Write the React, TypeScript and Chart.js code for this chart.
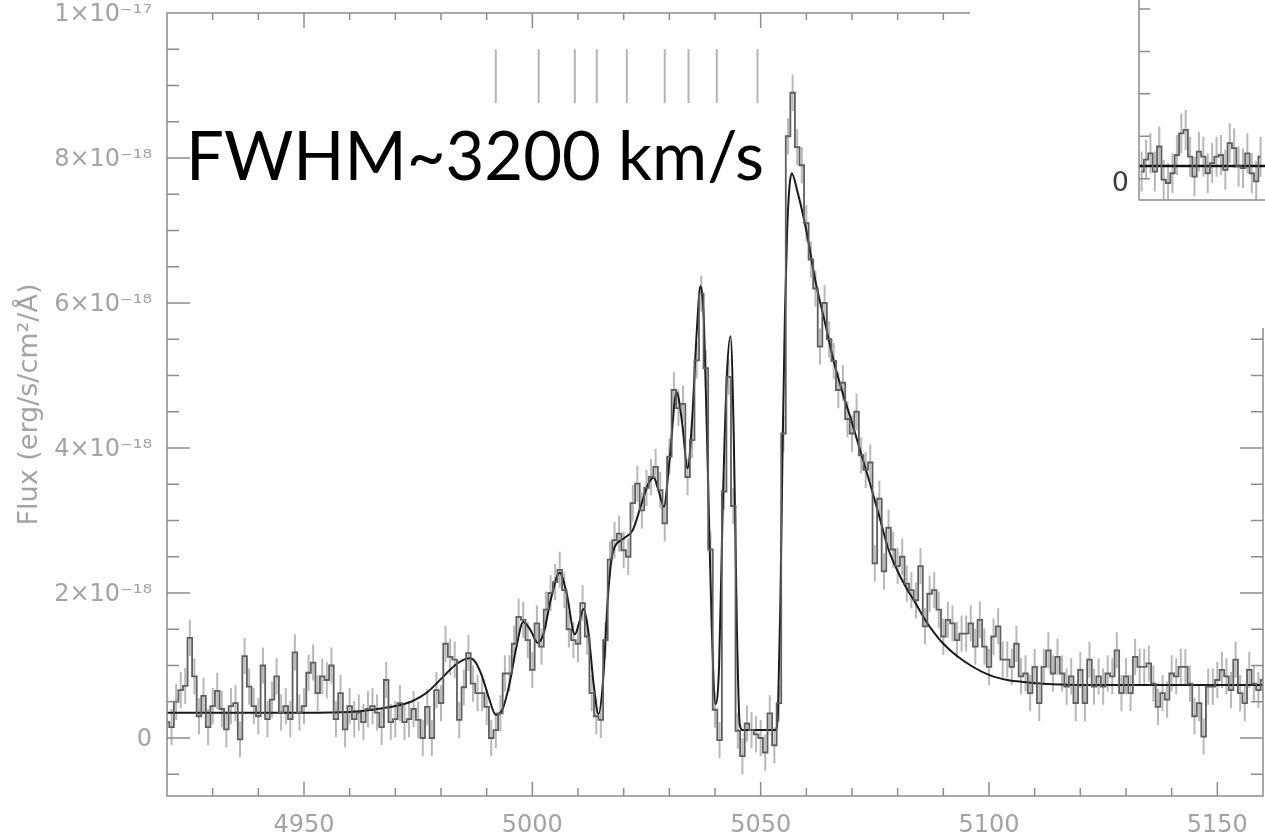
import { useEffect, useRef } from "react";
import { Chart, registerables } from "chart.js";

Chart.register(...registerables);

const W = 1265;
const H = 837;

// Observed spectrum: one value per 1 Å pixel starting at 4920 Å.
// Flux in units of 1e-18 erg/s/cm²/Å.
const WAVE_START = 4920;
const WAVE_STEP = 1;
const FLUX = [
  0.22, 0.15, 0.50, 0.66, 0.72, 1.38, 0.85, 0.30, 0.58, 0.15, // 4920
  0.44, 0.65, 0.40, 0.12, 0.44, 0.48, -0.02, 1.13, 0.71, 0.44, // 4930
  0.30, 1.00, 0.26, 0.53, 0.85, 0.35, 0.44, 0.26, 1.18, 0.35, // 4940
  0.44, 0.90, 1.04, 0.62, 0.85, 0.80, 1.00, 0.26, 0.62, 0.12, // 4950
  0.44, 0.26, 0.35, 0.22, 0.40, 0.44, 0.35, 0.15, 0.80, 0.22, // 4960
  0.26, 0.48, 0.22, 0.26, 0.40, 0.25, 0.00, 0.43, 0.00, 0.66, // 4970
  0.48, 1.30, 1.12, 1.08, 0.25, 0.70, 1.17, 0.75, 0.62, 0.62, // 4980
  0.43, 0.00, 0.11, 0.34, 0.89, 0.89, 1.30, 1.67, 1.63, 1.35, // 4990
  0.94, 1.58, 1.26, 1.77, 2.00, 2.15, 2.32, 2.04, 1.50, 1.35, // 5000
  1.30, 1.86, 1.40, 0.62, 0.30, 0.25, 1.35, 2.46, 2.73, 2.82, // 5010
  2.59, 2.50, 3.24, 3.51, 3.14, 3.45, 3.60, 3.74, 3.42, 2.96, // 5020
  3.88, 4.80, 4.55, 4.61, 3.60, 4.11, 5.21, 6.13, 5.10, 2.60, // 5030
  0.39, -0.03, 3.40, 4.98, 3.20, 0.10, -0.25, 0.20, 0.11, 0.05, // 5040
  0.00, -0.20, 0.34, -0.10, 0.48, 4.20, 8.30, 8.90, 8.15, 7.90, // 5050
  7.10, 6.60, 6.20, 5.40, 6.00, 5.50, 5.20, 4.80, 4.90, 4.40, // 5060
  4.20, 4.50, 3.90, 3.70, 3.80, 2.41, 3.30, 2.30, 2.90, 2.60, // 5070
  2.37, 2.50, 2.13, 2.04, 1.90, 2.37, 1.54, 1.99, 2.04, 1.77, // 5080
  1.40, 1.63, 1.58, 1.35, 1.44, 1.44, 1.58, 1.26, 1.63, 1.26, // 5090
  0.98, 1.40, 1.54, 1.08, 1.08, 0.98, 1.30, 0.85, 0.89, 0.62, // 5100
  0.98, 0.48, 0.98, 1.21, 0.89, 1.12, 0.89, 0.71, 0.85, 0.48, // 5110
  0.94, 0.48, 1.08, 0.71, 0.85, 0.71, 0.89, 0.85, 1.21, 0.62, // 5120
  0.85, 0.62, 1.12, 0.98, 0.98, 1.03, 0.75, 0.43, 0.62, 0.53, // 5130
  0.89, 0.85, 0.98, 0.98, 0.75, 0.30, 0.48, 0.02, 0.71, 0.71, // 5140
  0.80, 0.94, 0.85, 0.66, 1.08, 0.62, 0.48, 0.94, 0.75, 0.66, // 5150
  0.80, // 5160
];
const FLUX_ERR = 0.25;

// Fitted model (continuum + broad emission with absorption troughs)
const MODEL_WAVE = [
  4920, 4930, 4940, 4950, 4960, 4965, 4970, 4973, 4975, 4977,
  4979, 4981, 4983, 4985, 4986.3, 4987.5, 4989, 4990.5, 4992, 4993.5,
  4995, 4996.5, 4998, 4999.5, 5001.2, 5002.5, 5004, 5006, 5007.5, 5009.3,
  5010.3, 5011.2, 5012.2, 5013.5, 5014.5, 5015.5, 5016.5, 5017.3, 5018, 5020,
  5022, 5024, 5025.5, 5026.6, 5027.7, 5028.8, 5030, 5031.6, 5032.8, 5034,
  5035, 5036, 5036.8, 5037.6, 5038.5, 5039.3, 5040.1, 5040.9, 5041.7, 5042.6,
  5043.4, 5044.1, 5044.8, 5045.4, 5046, 5053.3, 5053.8, 5054.3, 5054.8, 5055.3,
  5055.8, 5056.3, 5056.8, 5058, 5060, 5062, 5064, 5066, 5068, 5070,
  5072, 5074, 5076, 5078, 5080, 5082, 5084, 5086, 5088, 5090,
  5093, 5096, 5100, 5104, 5108, 5114, 5120, 5160,
];
const MODEL_FLUX = [
  0.35, 0.35, 0.35, 0.35, 0.36, 0.39, 0.44, 0.49, 0.55, 0.63,
  0.75, 0.88, 1.00, 1.08, 1.10, 1.05, 0.85, 0.55, 0.32, 0.40,
  0.75, 1.25, 1.60, 1.50, 1.31, 1.45, 1.90, 2.28, 2.00, 1.43,
  1.60, 1.78, 1.50, 0.70, 0.33, 0.80, 1.90, 2.45, 2.63, 2.75,
  2.87, 3.25, 3.52, 3.59, 3.40, 3.19, 3.80, 4.77, 4.35, 3.72,
  4.40, 5.60, 6.23, 5.70, 3.50, 1.50, 0.47, 1.00, 3.20, 5.00,
  5.54, 4.20, 1.50, 0.20, 0.11, 0.11, 0.40, 1.80, 4.00, 5.80,
  7.00, 7.60, 7.79, 7.55, 7.00, 6.30, 5.75, 5.20, 4.75, 4.35,
  3.92, 3.50, 3.05, 2.60, 2.30, 2.06, 1.85, 1.63, 1.45, 1.30,
  1.13, 1.00, 0.87, 0.80, 0.77, 0.74, 0.73, 0.73,
];

// Absorption line markers (Å) and their vertical extent (flux units)
const LINE_MARKS = [4992.0, 5001.4, 5009.3, 5014.1, 5020.7, 5029.0, 5034.2, 5040.4, 5049.3];
const MARK_LOW = 8.76;
const MARK_HIGH = 9.5;

const X_MIN = 4920;
const X_MAX = 5160;
const Y_MIN = -0.8;
const Y_MAX = 10;
const X_MAJOR = [4950, 5000, 5050, 5100, 5150];
const Y_MAJOR = [0, 2, 4, 6, 8, 10];

// Small side panel: noisy flat continuum
const INSET_FLUX = [
  0.17, 0.45, 0.60, 0.17, 0.76, -0.02, -0.10, 0.13, 0.56, 1.07,
  1.15, 0.52, 0.05, 0.64, 0.52, 0.13, 0.37, 0.52, 0.56, 0.21,
  0.84, 0.72, 0.29, 0.25, 0.60, 0.13, -0.06, 0.52,
];
const INSET_ERR = 0.47;
const INSET_MODEL = 0.3;
const INSET_Y_TICKS = [0, 1, 2, 3, 4];

const CAPTION = "FWHM~3200 km/s";

const AXIS_COLOR = "#8c8c8c";
const LABEL_COLOR = "#a3a3a3";
const FONT = "'DejaVu Sans', sans-serif";

const SUP: Record<string, string> = {
  "-": "\u207B", "0": "\u2070", "1": "\u00B9", "2": "\u00B2", "3": "\u00B3",
  "4": "\u2074", "5": "\u2075", "6": "\u2076", "7": "\u2077", "8": "\u2078", "9": "\u2079",
};

// value given in units of 1e-18 -> "m×10ⁿ"
function sciLabel(v: number): string {
  if (v === 0) return "0";
  let m = v;
  let exp = -18;
  while (Math.abs(m) >= 10) {
    m /= 10;
    exp += 1;
  }
  const e = String(exp).split("").map((c) => SUP[c]).join("");
  return `${m}\u00D710${e}`;
}

function clipToArea(ctx: CanvasRenderingContext2D, a: any) {
  ctx.beginPath();
  ctx.rect(a.left, a.top, a.right - a.left, a.bottom - a.top);
  ctx.clip();
}

function errorBarPlugin(id: string, xs: number[], ys: number[], err: number) {
  return {
    id,
    beforeDatasetsDraw(chart: any) {
      const { ctx, chartArea, scales } = chart;
      ctx.save();
      clipToArea(ctx, chartArea);
      ctx.strokeStyle = "#b8b8b8";
      ctx.lineWidth = 2;
      ctx.beginPath();
      ys.forEach((v, i) => {
        const px = scales.x.getPixelForValue(xs[i]);
        ctx.moveTo(px, scales.y.getPixelForValue(v + err));
        ctx.lineTo(px, scales.y.getPixelForValue(v - err));
      });
      ctx.stroke();
      ctx.restore();
    },
  };
}

// Remove the room Chart.js reserves for labels overflowing the plot edges
function noEdgePadding(s: any) {
  s.paddingTop = 0;
  s.paddingBottom = 0;
  s.paddingLeft = 0;
  s.paddingRight = 0;
}

const mainFrame = {
  id: "mainFrame",
  afterDraw(chart: any) {
    const { ctx, chartArea: a, scales } = chart;
    const { x, y } = scales;
    ctx.save();
    ctx.strokeStyle = AXIS_COLOR;
    ctx.lineWidth = 1.5;
    ctx.beginPath();
    ctx.rect(a.left, a.top, a.right - a.left, a.bottom - a.top);
    // wavelength ticks every 10 Å, longer every 50 Å, bottom and top
    for (let w = X_MIN; w <= X_MAX; w += 10) {
      const px = x.getPixelForValue(w);
      const major = w % 50 === 0;
      ctx.moveTo(px, a.bottom);
      ctx.lineTo(px, a.bottom - (major ? 14 : 8));
      ctx.moveTo(px, a.top);
      ctx.lineTo(px, a.top + (major ? 15 : 7));
    }
    // flux ticks every 0.5e-18, longer every 2e-18, left and right
    for (let k = -1; k <= 20; k++) {
      const v = k * 0.5;
      const py = y.getPixelForValue(v);
      const major = k % 4 === 0;
      ctx.moveTo(a.left, py);
      ctx.lineTo(a.left + (major ? 23 : 12), py);
      ctx.moveTo(a.right, py);
      ctx.lineTo(a.right - (major ? 23 : 12), py);
    }
    ctx.stroke();

    // line markers above the profile
    ctx.strokeStyle = "#b4b4b4";
    ctx.lineWidth = 2;
    ctx.beginPath();
    LINE_MARKS.forEach((w) => {
      const px = x.getPixelForValue(w);
      ctx.moveTo(px, y.getPixelForValue(MARK_HIGH));
      ctx.lineTo(px, y.getPixelForValue(MARK_LOW));
    });
    ctx.stroke();

    // blank panel behind the side plot
    ctx.fillStyle = "#ffffff";
    ctx.fillRect(970, 0, W - 970, 328);

    // caption
    ctx.fillStyle = "#000000";
    ctx.font = "67px Lato, 'Open Sans', sans-serif";
    ctx.textBaseline = "alphabetic";
    ctx.textAlign = "left";
    ctx.fillText(CAPTION, 186, 180);
    ctx.restore();
  },
};

const insetFrame = {
  id: "insetFrame",
  afterDraw(chart: any) {
    const { ctx, chartArea: a, scales } = chart;
    ctx.save();
    ctx.strokeStyle = AXIS_COLOR;
    ctx.lineWidth = 1.5;
    ctx.beginPath();
    ctx.moveTo(a.left, 0);
    ctx.lineTo(a.left, a.bottom);
    ctx.lineTo(a.right, a.bottom);
    INSET_Y_TICKS.forEach((v) => {
      const py = scales.y.getPixelForValue(v);
      ctx.moveTo(a.left, py);
      ctx.lineTo(a.left + 11, py);
    });
    ctx.stroke();
    ctx.restore();
  },
};

export default function App() {
  const mainRef = useRef<HTMLCanvasElement | null>(null);
  const insetRef = useRef<HTMLCanvasElement | null>(null);

  useEffect(() => {
    const waves = FLUX.map((_, i) => WAVE_START + i * WAVE_STEP);
    const main = new Chart(mainRef.current!, {
      type: "line",
      data: {
        datasets: [
          {
            label: "spectrum",
            data: FLUX.map((f, i) => ({ x: waves[i], y: f })),
            stepped: "middle",
            borderColor: "#5e5e5e",
            borderWidth: 1.8,
            pointRadius: 0,
            fill: false,
          },
          {
            label: "model",
            data: MODEL_WAVE.map((w, i) => ({ x: w, y: MODEL_FLUX[i] })),
            borderColor: "#1a1a1a",
            borderWidth: 2,
            pointRadius: 0,
            cubicInterpolationMode: "monotone",
            fill: false,
          },
        ],
      },
      options: {
        animation: false,
        responsive: false,
        maintainAspectRatio: false,
        layout: { padding: { top: 13, right: 2, left: 0, bottom: 0 } },
        plugins: { legend: { display: false }, tooltip: { enabled: false } },
        scales: {
          x: {
            type: "linear",
            min: X_MIN,
            max: X_MAX,
            grid: { display: false },
            border: { display: false },
            afterBuildTicks: (s: any) => {
              s.ticks = X_MAJOR.map((v) => ({ value: v }));
            },
            afterFit: (s: any) => {
              s.height = 41;
              noEdgePadding(s);
            },
            ticks: {
              font: { family: FONT, size: 24 },
              color: LABEL_COLOR,
              padding: 7,
              maxRotation: 0,
              autoSkip: false,
              callback: (v: any) => String(v),
            },
          },
          y: {
            type: "linear",
            min: Y_MIN,
            max: Y_MAX,
            grid: { display: false },
            border: { display: false },
            afterBuildTicks: (s: any) => {
              s.ticks = Y_MAJOR.map((v) => ({ value: v }));
            },
            afterFit: (s: any) => {
              s.width = 167;
              noEdgePadding(s);
            },
            ticks: {
              font: { family: FONT, size: 24 },
              color: LABEL_COLOR,
              padding: 7,
              labelOffset: 2,
              autoSkip: false,
              callback: (v: any) => sciLabel(Number(v)),
            },
            title: {
              display: true,
              text: "Flux (erg/s/cm\u00B2/\u00C5)",
              font: { family: FONT, size: 27 },
              color: LABEL_COLOR,
              padding: { top: 14, bottom: 0 },
            },
          },
        },
      },
      plugins: [errorBarPlugin("mainErrors", waves, FLUX, FLUX_ERR), mainFrame],
    } as any);

    const insetX = INSET_FLUX.map((_, i) => i);
    const inset = new Chart(insetRef.current!, {
      type: "line",
      data: {
        datasets: [
          {
            label: "side spectrum",
            data: INSET_FLUX.map((f, i) => ({ x: insetX[i], y: f })),
            stepped: "middle",
            borderColor: "#5e5e5e",
            borderWidth: 1.8,
            pointRadius: 0,
            fill: false,
          },
          {
            label: "side model",
            data: [
              { x: -0.6, y: INSET_MODEL },
              { x: 28, y: INSET_MODEL },
            ],
            borderColor: "#111111",
            borderWidth: 2.6,
            pointRadius: 0,
            fill: false,
          },
        ],
      },
      options: {
        animation: false,
        responsive: false,
        maintainAspectRatio: false,
        layout: { padding: 0 },
        plugins: { legend: { display: false }, tooltip: { enabled: false } },
        scales: {
          x: {
            type: "linear",
            min: -0.6,
            max: 28,
            grid: { display: false },
            border: { display: false },
            ticks: { display: false },
            afterFit: (s: any) => {
              s.height = 10;
              noEdgePadding(s);
            },
          },
          y: {
            type: "linear",
            min: -0.5,
            max: 4.21,
            grid: { display: false },
            border: { display: false },
            afterBuildTicks: (s: any) => {
              s.ticks = [{ value: 0 }];
            },
            afterFit: (s: any) => {
              s.width = 39;
              noEdgePadding(s);
            },
            ticks: {
              font: { family: FONT, size: 27 },
              color: "#3c3c3c",
              padding: 2,
              labelOffset: 5,
              callback: (v: any) => String(v),
            },
          },
        },
      },
      plugins: [errorBarPlugin("insetErrors", insetX, INSET_FLUX, INSET_ERR), insetFrame],
    } as any);

    return () => {
      main.destroy();
      inset.destroy();
    };
  }, []);

  return (
    <div
      style={{
        position: "absolute",
        left: 0,
        top: 0,
        width: W,
        height: H,
        overflow: "hidden",
        background: "#ffffff",
      }}
    >
      <canvas
        ref={mainRef}
        width={W}
        height={H}
        style={{ position: "absolute", left: 0, top: 0, width: W, height: H }}
      />
      <canvas
        ref={insetRef}
        width={165}
        height={210}
        style={{ position: "absolute", left: 1100, top: 0, width: 165, height: 210 }}
      />
    </div>
  );
}
